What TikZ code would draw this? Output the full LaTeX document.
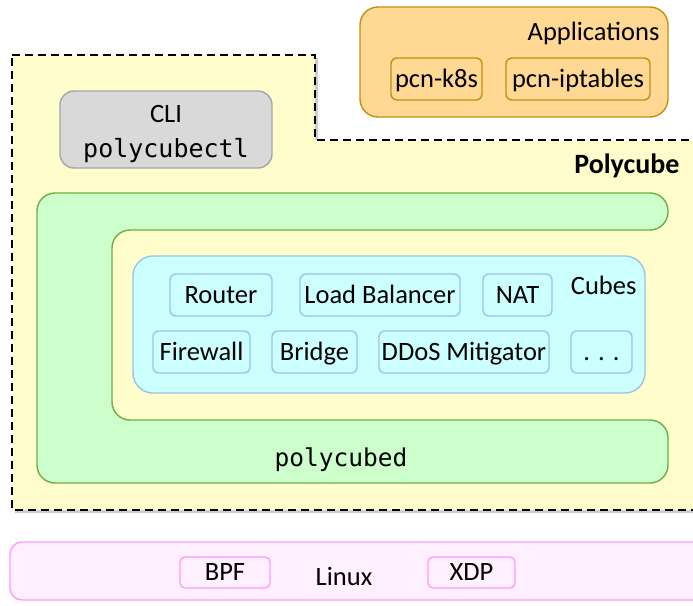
\documentclass[tikz,border=0pt]{standalone}
\usepackage{fontspec}
\setmainfont{Carlito}
\setmonofont{DejaVu Sans Mono}
\usetikzlibrary{positioning,shadows}

\definecolor{pcyellow}{HTML}{FFFDCC}
\definecolor{apporange}{HTML}{FFD893}
\definecolor{appborder}{HTML}{C09010}
\definecolor{cligray}{HTML}{D9D9D9}
\definecolor{cliborder}{HTML}{A6A6A6}
\definecolor{dgreen}{HTML}{CCFFCC}
\definecolor{dborder}{HTML}{70AD47}
\definecolor{cubecyan}{HTML}{CCFFFF}
\definecolor{cubeborder}{HTML}{9DC3E6}
\definecolor{linuxpink}{HTML}{FFF0FF}
\definecolor{linuxborder}{HTML}{FF99FF}

\begin{document}
\begin{tikzpicture}[x=1pt,y=-1pt,
  font=\fontsize{26.5}{30}\selectfont,
  cube/.style={rectangle, rounded corners=6pt, draw=cubeborder, line width=1.4pt,
    fill=cubecyan, minimum height=42pt, inner sep=0pt, text height=19pt, text depth=3pt},
  app/.style={rectangle, rounded corners=6pt, draw=appborder, line width=1.4pt,
    minimum height=42pt, inner sep=0pt, text height=19pt, text depth=3pt},
  hook/.style={rectangle, rounded corners=5pt, draw=linuxborder, line width=1.4pt,
    minimum height=31pt, minimum width=90pt, inner sep=0pt, text height=18pt, text depth=3pt},
  box/.style={rounded corners=#1, line width=1.4pt}]
    \useasboundingbox (0,0) rectangle (693,605);

    % polycube area
    \draw[line width=2.2pt, dash pattern=on 8pt off 5pt, fill=pcyellow,
      drop shadow={shadow xshift=3pt, shadow yshift=-3pt, opacity=0.4}]
      (12,55) -- (315,55) -- (315,140) -- (700,140) -- (700,510) -- (12,510) -- cycle;
    \node[anchor=base east, font=\fontsize{28}{30}\selectfont\bfseries] (pc) at (683,173) {Polycube};

    % applications
    \draw[box=18pt, draw=appborder, fill=apporange] (360,7) rectangle (668,117);
    \node[anchor=base east] (apps) at (663,40) {Applications};
    \node[app, minimum width=91pt] (k8s) at (436.5,79) {pcn-k8s};
    \node[app, minimum width=144pt] (ipt) at (578,79) {pcn-iptables};

    % cli
    \node[rectangle, rounded corners=14pt, draw=cliborder, fill=cligray, line width=1.4pt,
      minimum width=212pt, minimum height=77pt] (cli) at (166,129.5) {};
    \node[anchor=base] (clititle) at (166,122) {CLI};
    \node[anchor=base, font=\fontsize{25}{26}\selectfont] (clicmd) at (166,157) {\texttt{polycubectl}};

    % polycubed
    \draw[box=18pt, draw=dborder, fill=dgreen]
      (37,193) -- (668,193) -- (668,230) -- (112,230) -- (112,420) -- (668,420)
      -- (668,483) -- (37,483) -- cycle;
    \node[font=\fontsize{24.5}{26}\selectfont] (pcd) at (341,460) {\texttt{polycubed}};

    % cubes
    \draw[box=20pt, draw=cubeborder, fill=cubecyan] (133,256) rectangle (645,393);
    \node[anchor=base east] (cubes) at (640,294) {Cubes};
    \node[cube, minimum width=102pt] (router) at (221,295) {Router};
    \node[cube, minimum width=160pt] (lb) at (380,295) {Load Balancer};
    \node[cube, minimum width=69pt] (nat) at (517.5,295) {NAT};
    \node[cube, minimum width=97pt] (fw) at (201.5,352) {Firewall};
    \node[cube, minimum width=85pt] (br) at (314.5,352) {Bridge};
    \node[cube, minimum width=170pt] (ddos) at (464,352) {DDoS Mitigator};
    \node[cube, minimum width=61pt] (more) at (601.5,352) {. . .};

    % linux
    \draw[box=12pt, draw=linuxborder, fill=linuxpink] (10,542) rectangle (705,600);
    \node[hook] (bpf) at (225,572.5) {BPF};
    \node (linux) at (344,576) {Linux};
    \node[hook, minimum width=87pt] (xdp) at (471.5,572.5) {XDP};

\end{tikzpicture}
\end{document}
